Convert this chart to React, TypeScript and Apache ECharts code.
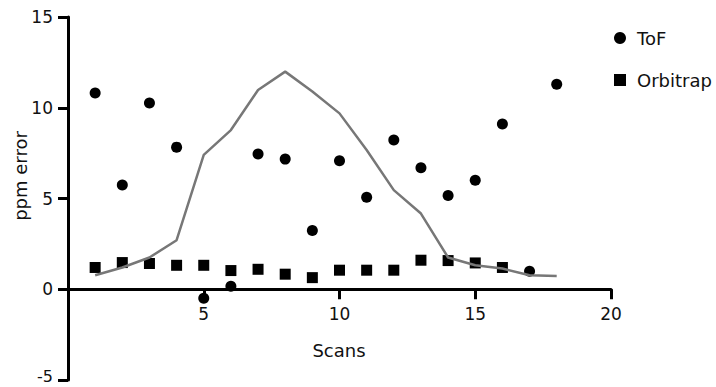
import React, { useEffect, useRef } from "react";
import * as echarts from "echarts";

const scans = [1, 2, 3, 4, 5, 6, 7, 8, 9, 10, 11, 12, 13, 14, 15, 16, 17, 18];
const tofValues = [10.81, 5.74, 10.26, 7.83, -0.5, 0.17, 7.45, 7.17, 3.24, 7.08, 5.07, 8.22, 6.69, 5.17, 6.01, 9.1, 0.99, 11.3];
const orbitrapValues = [1.2, 1.47, 1.42, 1.32, 1.32, 1.03, 1.1, 0.83, 0.64, 1.05, 1.05, 1.05, 1.6, 1.58, 1.45, 1.2];
const traceValues = [0.77, 1.2, 1.75, 2.7, 7.4, 8.77, 10.98, 11.99, 10.9, 9.69, 7.67, 5.46, 4.17, 1.75, 1.32, 1.14, 0.77, 0.73];
const xTicks = [0, 5, 10, 15, 20];
const yTicks = [-5, 0, 5, 10, 15];

const FONT = "DejaVu Sans";
const GRID_TOP = 17;
const GRID_BOTTOM = 7;
const GRID_HEIGHT = 387 - GRID_TOP - GRID_BOTTOM;

export default function App() {
  const ref = useRef<HTMLDivElement>(null);
  useEffect(() => {
    if (!ref.current) return;
    const chart = echarts.init(ref.current, null, { renderer: "svg" });
    const pair = (vals: number[]) => vals.map((v, i) => [scans[i], v]);
    const yMin = yTicks[0];
    const yMax = yTicks[yTicks.length - 1];
    // x axis sits on y = 0: shift it up from the grid bottom
    const zeroOffset = -((0 - yMin) / (yMax - yMin)) * GRID_HEIGHT;
    chart.setOption({
      animation: false,
      backgroundColor: "#ffffff",
      textStyle: { fontFamily: FONT },
      grid: {
        left: 68,
        right: 105,
        top: GRID_TOP,
        bottom: GRID_BOTTOM,
        containLabel: false,
        outerBoundsMode: "none",
      },
      legend: {
        data: [
          { name: "ToF", icon: "circle" },
          { name: "Orbitrap", icon: "rect" },
        ],
        orient: "vertical",
        left: 609,
        top: 24,
        itemWidth: 12,
        itemHeight: 12,
        itemGap: 24,
        itemStyle: { opacity: 1 },
        textStyle: { fontFamily: FONT, fontSize: 18, lineHeight: 18, color: "#111", padding: [0, 0, 0, 6] },
      },
      xAxis: {
        type: "value",
        min: xTicks[0],
        max: xTicks[xTicks.length - 1],
        interval: 5,
        position: "bottom",
        offset: zeroOffset,
        axisLine: { onZero: false, lineStyle: { color: "#000", width: 3 } },
        axisTick: { show: true, length: 10, lineStyle: { color: "#000", width: 3 } },
        axisLabel: {
          fontFamily: FONT,
          fontSize: 17,
          color: "#111",
          margin: 16,
          formatter: (v: number) => (v === 0 ? "" : String(v)),
        },
        splitLine: { show: false },
      },
      yAxis: {
        type: "value",
        min: yMin,
        max: yMax,
        interval: 5,
        axisLine: { show: true, onZero: false, lineStyle: { color: "#000", width: 3 } },
        axisTick: { show: true, length: 10, lineStyle: { color: "#000", width: 3 } },
        axisLabel: {
          fontFamily: FONT,
          fontSize: 17,
          color: "#111",
          margin: 15,
          formatter: (v: number) => (v === yMin ? `{m|${v}}` : String(v)),
          rich: {
            m: { fontFamily: FONT, fontSize: 16, color: "#111", padding: [0, 0, 8, 0] },
          },
        },
        splitLine: { show: false },
      },
      graphic: [
        {
          type: "text",
          x: 339,
          y: 350,
          style: { text: "Scans", fontFamily: FONT, fontSize: 18, fill: "#111", align: "center", verticalAlign: "middle" },
        },
        {
          type: "text",
          x: 20,
          y: 176,
          rotation: Math.PI / 2,
          style: { text: "ppm error", fontFamily: FONT, fontSize: 18, fill: "#111", align: "center", verticalAlign: "middle" },
        },
      ],
      series: [
        {
          name: "ToF",
          type: "scatter",
          symbol: "circle",
          symbolSize: 11,
          itemStyle: { color: "#000", opacity: 1 },
          data: pair(tofValues),
          z: 2,
        },
        {
          name: "Orbitrap",
          type: "scatter",
          symbol: "rect",
          symbolSize: 11,
          itemStyle: { color: "#000", opacity: 1 },
          data: pair(orbitrapValues),
          z: 2,
        },
        {
          name: "Trace",
          type: "line",
          symbol: "none",
          lineStyle: { color: "#777777", width: 2.5 },
          data: pair(traceValues),
          z: 3,
        },
      ],
    });
    return () => chart.dispose();
  }, []);
  return <div ref={ref} style={{ position: "fixed", left: 0, top: 0, width: 716, height: 387 }} />;
}
